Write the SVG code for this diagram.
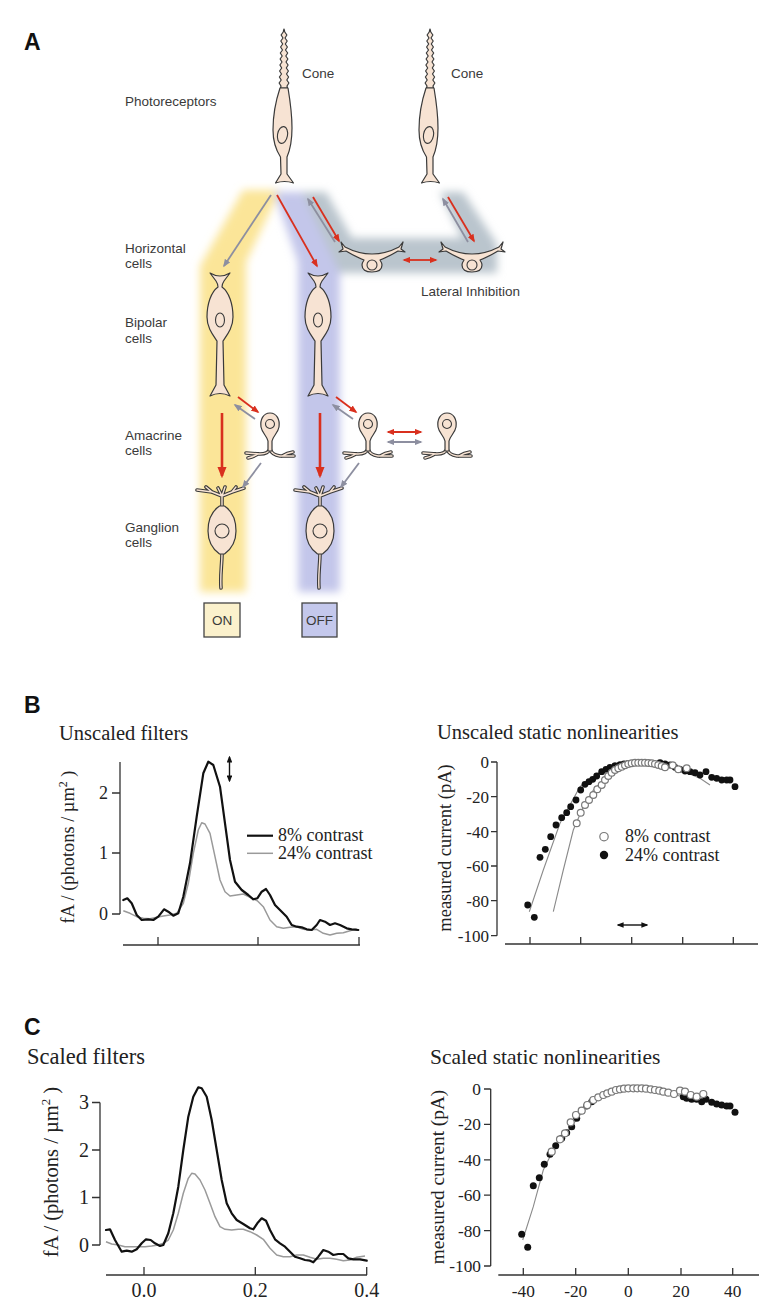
<svg xmlns="http://www.w3.org/2000/svg" xmlns:xlink="http://www.w3.org/1999/xlink" width="765" height="1300" viewBox="0 0 765 1300">
<style>
.cell{fill:#F7E3D3;stroke:#3a3a3a;stroke-width:1.2;stroke-linejoin:round}
.nuc{fill:none;stroke:#3a3a3a;stroke-width:1.1}
.dO{fill:none;stroke:#3a3a3a;stroke-width:3.6;stroke-linecap:round;stroke-linejoin:round}
.dI{fill:none;stroke:#F7E3D3;stroke-width:1.4;stroke-linecap:round;stroke-linejoin:round}
.lbl{font-family:"Liberation Sans",Arial,sans-serif;font-size:13.5px;fill:#3a3a3a}
.big{font-family:"Liberation Sans",Arial,sans-serif;font-size:23px;font-weight:bold;fill:#111}
.ser{font-family:"Liberation Serif","Times New Roman",serif;fill:#222}
.ax{fill:none;stroke:#333;stroke-width:1.3}
.blk{fill:none;stroke:#111;stroke-width:2.2;stroke-linejoin:round;stroke-linecap:round}
.gry{fill:none;stroke:#9a9a9a;stroke-width:1.5;stroke-linejoin:round}
.fit{fill:none;stroke:#8a8a8a;stroke-width:1.1}
.dot{fill:#111}
.odot{fill:#fff;stroke:#7a7a7a;stroke-width:1.2}
.ar{fill:none;stroke:#D9301E;stroke-width:1.8}
.arb{fill:none;stroke:#D9301E;stroke-width:2.6}
.ag{fill:none;stroke:#8D8FA0;stroke-width:1.8}
.ak{fill:none;stroke:#111;stroke-width:1.4}
</style>
<defs>
<filter id="blur" x="-30%" y="-10%" width="160%" height="120%"><feGaussianBlur stdDeviation="4"/></filter>
<marker id="mr" viewBox="0 0 10 8" refX="8" refY="4" markerWidth="4.5" markerHeight="3.6" orient="auto-start-reverse"><path d="M0,0 L10,4 L0,8 Z" fill="#D9301E"/></marker>
<marker id="mg" viewBox="0 0 10 8" refX="8" refY="4" markerWidth="4.5" markerHeight="3.6" orient="auto-start-reverse"><path d="M0,0 L10,4 L0,8 Z" fill="#8D8FA0"/></marker>
<marker id="mk" viewBox="0 0 10 8" refX="8" refY="4" markerWidth="5" markerHeight="4" orient="auto-start-reverse"><path d="M0,0 L10,4 L0,8 Z" fill="#111"/></marker>
<g id="coneShape">
<path class="cell" d="M 0 29 L 0.8 32 L 2.9 35 L 1.0 38 L 3.2 41 L 1.3 44 L 3.4 47 L 1.5 50 L 3.7 53 L 1.8 56 L 3.9 59 L 2.0 62 L 4.1 65 L 2.3 68 L 4.4 71 L 2.5 74 L 4.6 77 L 2.8 80 L 4.9 83 L 3 86 L 3.5 88 L -3.5 88 L -3 86 L -4.9 83 L -2.8 80 L -4.6 77 L -2.5 74 L -4.4 71 L -2.3 68 L -4.1 65 L -2.0 62 L -3.9 59 L -1.8 56 L -3.7 53 L -1.5 50 L -3.4 47 L -1.3 44 L -3.2 41 L -1.0 38 L -2.9 35 L -0.8 32 Z"/>
<path class="cell" d="M -4 88 C -8 100 -11 115 -11 130 C -11 143 -8 150 -3.5 157 L -3 174 L -8.5 183 Q 0.5 180 9.5 183 L 3 174 L 3 157 C 6 150 8 142 8 128 C 8 112 6 100 4 88 Z"/>
<ellipse class="nuc" cx="-1.5" cy="135" rx="5" ry="8.5" transform="rotate(10 -1.5 135)"/>
</g>
<g id="hShape">
<path class="cell" d="M -31 -11 L -27 -6 Q 0 8 27 -6 L 31 -11 L 29 -4 L 33 -1 L 26 -2 Q 14 5 8 7 Q 10 10 10 12 Q 10 19 0 19 Q -10 19 -10 12 Q -10 10 -8 7 Q -14 5 -26 -2 L -33 -1 L -29 -4 Z"/>
<circle class="nuc" cx="0" cy="12" r="5"/>
</g>
<g id="bShape">
<path class="cell" d="M -10 -45 Q 0 -39 10 -45 L 4 -37 Q 2 -34 2 -31 C 9 -26 13 -14 13 -1 C 13 10 7 17 3 23 L 4 67 L 10 78 Q 0 73 -10 78 L -4 67 L -3 23 C -7 17 -13 10 -13 -1 C -13 -14 -9 -26 -2 -31 Q -2 -34 -4 -37 Z"/>
<ellipse class="nuc" cx="0" cy="2" rx="4.5" ry="7"/>
</g>
<g id="aShape">
<path class="dO" d="M 0 22 Q -2 27 -10 27 L -24 26 M -12 27 Q -17 30 -22 31 M 0 22 Q 2 28 10 29 L 24 29 M 12 29 Q 17 26 23 25"/>
<path class="dI" d="M 0 22 Q -2 27 -10 27 L -24 26 M -12 27 Q -17 30 -22 31 M 0 22 Q 2 28 10 29 L 24 29 M 12 29 Q 17 26 23 25"/>
<path class="cell" d="M 0 -14 C 7 -14 10 -7 9 0 C 8 6 3 9 2 14 L 2 24 L -2 24 L -2 14 C -3 9 -8 6 -9 0 C -10 -7 -7 -14 0 -14 Z"/>
<circle class="nuc" cx="0" cy="-3" r="4.5"/>
</g>
<g id="gShape">
<path class="dO" d="M 0 -22 L 0 -34 M 0 -34 L -10 -38 L -25 -40 M -10 -38 L -16 -43 M 0 -34 L -4 -42 M 0 -34 L 3 -43 M 0 -34 L 10 -38 L 22 -42 M 10 -38 L 14 -43 M 0 23 C 0 35 -2 45 -1 58"/>
<path class="dI" d="M 0 -22 L 0 -34 M 0 -34 L -10 -38 L -25 -40 M -10 -38 L -16 -43 M 0 -34 L -4 -42 M 0 -34 L 3 -43 M 0 -34 L 10 -38 L 22 -42 M 10 -38 L 14 -43 M 0 23 C 0 35 -2 45 -1 58"/>
<path class="cell" d="M -2.5 -24 C -10 -19 -14 -10 -14 1 C -14 13 -8 20 -2.5 24 L 2.5 24 C 8 20 14 13 14 1 C 14 -10 10 -19 2.5 -24 Z"/>
<circle class="nuc" cx="0" cy="1" r="7"/>
</g>
</defs>
<rect width="765" height="1300" fill="#fff"/>

<g id="bands" filter="url(#blur)">
<path fill="#FBE598" d="M 243 190 L 280 190 L 246 262 L 246 592 L 200 592 L 200 266 Z"/>
<path fill="#C3C6EA" d="M 274 192 L 302 192 L 340 262 L 340 592 L 298 592 L 298 262 Z"/>
<path fill="#BAC5CD" d="M 302 192 L 326 192 L 352 238 L 462 238 L 440 192 L 463 192 L 497 244 L 497 273 L 340 273 Z"/>
</g>

<text class="big" x="24" y="50">A</text>
<text class="lbl" x="125" y="106">Photoreceptors</text>
<text class="lbl" x="302" y="78">Cone</text>
<text class="lbl" x="451" y="78">Cone</text>
<text class="lbl" x="125" y="253">Horizontal</text>
<text class="lbl" x="125" y="268">cells</text>
<text class="lbl" x="125" y="327">Bipolar</text>
<text class="lbl" x="125" y="343">cells</text>
<text class="lbl" x="125" y="440">Amacrine</text>
<text class="lbl" x="125" y="455">cells</text>
<text class="lbl" x="125" y="532">Ganglion</text>
<text class="lbl" x="125" y="547">cells</text>
<text class="lbl" x="421" y="296">Lateral Inhibition</text>

<g id="cone1" transform="translate(284,0)"><use xlink:href="#coneShape"/></g>
<g id="cone2" transform="translate(430,0)"><use xlink:href="#coneShape"/></g>
<g id="hcell1" transform="translate(372,253)"><use xlink:href="#hShape"/></g>
<g id="hcell2" transform="translate(472,253)"><use xlink:href="#hShape"/></g>
<g id="bipolar-on" transform="translate(220,318)"><use xlink:href="#bShape"/></g>
<g id="bipolar-off" transform="translate(318,318)"><use xlink:href="#bShape"/></g>
<g id="amacrine1" transform="translate(270,427)"><use xlink:href="#aShape"/></g>
<g id="amacrine2" transform="translate(368,427)"><use xlink:href="#aShape"/></g>
<g id="amacrine3" transform="translate(447,427)"><use xlink:href="#aShape"/></g>
<g id="ganglion-on" transform="translate(222,530)"><use xlink:href="#gShape"/></g>
<g id="ganglion-off" transform="translate(320,530)"><use xlink:href="#gShape"/></g>

<g id="box-on"><rect x="204" y="603" width="36" height="34" fill="#FBF1CC" stroke="#444" stroke-width="1.3"/><text class="lbl" x="222" y="625" text-anchor="middle">ON</text></g>
<g id="box-off"><rect x="302" y="603" width="35" height="34" fill="#C4C8EC" stroke="#444" stroke-width="1.3"/><text class="lbl" x="319.5" y="625" text-anchor="middle">OFF</text></g>

<g id="connectors">
<line class="ag" x1="271" y1="195" x2="224" y2="266" marker-end="url(#mg)"/>
<line class="ar" x1="277" y1="195" x2="317" y2="266" marker-end="url(#mr)"/>
<line class="ar" x1="313" y1="197" x2="339" y2="241" marker-end="url(#mr)"/>
<line class="ag" x1="335" y1="242" x2="308" y2="199" marker-end="url(#mg)"/>
<line class="ar" x1="448" y1="197" x2="474" y2="241" marker-end="url(#mr)"/>
<line class="ag" x1="468" y1="242" x2="443" y2="199" marker-end="url(#mg)"/>
<line class="ar" x1="404" y1="260" x2="436" y2="260" marker-start="url(#mr)" marker-end="url(#mr)"/>
<line class="ar" x1="238" y1="397" x2="258" y2="412" marker-end="url(#mr)"/>
<line class="ag" x1="255" y1="419" x2="235" y2="405" marker-end="url(#mg)"/>
<line class="ar" x1="336" y1="397" x2="356" y2="412" marker-end="url(#mr)"/>
<line class="ag" x1="353" y1="419" x2="333" y2="405" marker-end="url(#mg)"/>
<line class="ar" x1="388" y1="432" x2="421" y2="432" marker-start="url(#mr)" marker-end="url(#mr)"/>
<line class="ag" x1="388" y1="442" x2="421" y2="442" marker-start="url(#mg)" marker-end="url(#mg)"/>
<line class="arb" x1="222" y1="413" x2="222" y2="476" marker-end="url(#mr)"/>
<line class="arb" x1="320" y1="413" x2="320" y2="476" marker-end="url(#mr)"/>
<line class="ag" x1="261" y1="463" x2="243" y2="487" marker-end="url(#mg)"/>
<line class="ag" x1="359" y1="463" x2="341" y2="487" marker-end="url(#mg)"/>
</g>

<!-- Panel B -->
<text class="big" x="24" y="713">B</text>
<g id="plotB1">
<text class="ser" x="59" y="740" font-size="20.5">Unscaled filters</text>
<text class="ser" font-size="18.4" transform="translate(74,847) rotate(-90)" text-anchor="middle">fA / (photons / µm<tspan font-size="12" dy="-7">2</tspan><tspan dy="7"> )</tspan></text>
<path class="ax" d="M120 762 L120 914 M112 914 L120 914 M112 853 L120 853 M112 793 L120 793"/>
<text class="ser" font-size="18" x="108" y="920" text-anchor="end">0</text>
<text class="ser" font-size="18" x="108" y="859" text-anchor="end">1</text>
<text class="ser" font-size="18" x="108" y="799" text-anchor="end">2</text>
<path class="ax" d="M123 945 L360 945 M158 945 L158 937 M258 945 L258 937 M359 945 L359 937"/>
<polyline class="gry" points="123.3,910.7 130,913.3 136.7,916.7 143.3,918.3 150,918.7 156.7,917.3 163.3,916 170,915 176.7,913.3 183.3,903.3 188.3,883.3 193.3,853.3 198.3,830 201.7,822.7 205,824 210,833.3 215,856.7 220,880 225,891.7 230,896 236.7,895 243.3,894 250,897.3 257.3,900.7 263.3,906.7 270,920 276.7,926.7 283.3,928.3 290,927.3 296.7,926.7 303.3,929.3 310,930 316.7,929.3 323.3,933.3 330,935 336.7,933.3 343.3,932.7 350,930.7 356.7,928.7"/>
<polyline class="blk" points="123.3,900 127.3,898.3 131.7,903.3 136.7,915 141.7,920 148.3,919.3 153.3,920 158.3,916.7 164,909.3 168.3,911.7 173.3,915.7 178.3,913.3 183.3,896.7 190,863.3 196.7,816.7 203.3,773.3 208.3,761.7 213.3,765 220,786.7 225,823.3 230,860 235,881.7 241.7,890 248.3,895 253.3,899.3 257.3,898.3 261.7,891.7 266,889 270,895 275,905 280,910 286.7,916.7 291.7,925 296.7,926.7 301.7,927.3 306.7,929.3 311.7,930 316.7,925 320,920 325,921.7 330,925 335,923.3 340,925 346.7,928.3 351.7,929.3 358.3,930"/>
<line class="ak" x1="229.5" y1="757" x2="229.5" y2="781" marker-start="url(#mk)" marker-end="url(#mk)"/>
<line x1="247" y1="835.7" x2="273" y2="835.7" stroke="#111" stroke-width="2.2"/>
<line x1="247" y1="853.3" x2="273" y2="853.3" stroke="#9a9a9a" stroke-width="1.5"/>
<text class="ser" font-size="18" x="278" y="841">8% contrast</text>
<text class="ser" font-size="18" x="278" y="859">24% contrast</text>
</g>

<g id="plotB2">
<text class="ser" x="437" y="739" font-size="20.5">Unscaled static nonlinearities</text>
<text class="ser" font-size="18.5" transform="translate(451,848) rotate(-90)" text-anchor="middle">measured current (pA)</text>
<path class="ax" d="M497 762 L497 935.7 M491 762 L497 762 M491 796.7 L497 796.7 M491 831.7 L497 831.7 M491 866 L497 866 M491 900.7 L497 900.7 M491 935.7 L497 935.7"/>
<text class="ser" font-size="17" x="489" y="768" text-anchor="end">0</text>
<text class="ser" font-size="17" x="489" y="802.7" text-anchor="end">-20</text>
<text class="ser" font-size="17" x="489" y="837.7" text-anchor="end">-40</text>
<text class="ser" font-size="17" x="489" y="872" text-anchor="end">-60</text>
<text class="ser" font-size="17" x="489" y="906.7" text-anchor="end">-80</text>
<text class="ser" font-size="17" x="489" y="941.7" text-anchor="end">-100</text>
<path class="ax" d="M505 944 L758 944 M530 944 L530 937 M580.7 944 L580.7 937 M631.7 944 L631.7 937 M682.7 944 L682.7 937 M733.3 944 L733.3 937"/>
<polyline class="fit" points="529.3,911.7 543.3,870 560,823.3 580,786.7 600,771.7 620,764 640,762.7 660,764 680,770 700,778.3 710,785"/>
<polyline class="fit" points="553.3,911.7 563.3,870 573.3,830 583.3,806.7 593.3,790 606.7,776.7 620,767.3 633.3,763.3"/>
<g class="dot">
<circle cx="527.7" cy="905" r="3.4"/><circle cx="534.3" cy="917.3" r="3.4"/><circle cx="540" cy="857.3" r="3.4"/><circle cx="545.3" cy="849.3" r="3.4"/><circle cx="550.7" cy="836.7" r="3.4"/><circle cx="556" cy="825" r="3.4"/><circle cx="561.7" cy="817.7" r="3.4"/><circle cx="566.7" cy="812.7" r="3.4"/><circle cx="570.7" cy="806.7" r="3.4"/><circle cx="576" cy="800" r="3.4"/><circle cx="580.7" cy="790" r="3.4"/><circle cx="585" cy="784.3" r="3.4"/><circle cx="589" cy="781.7" r="3.4"/><circle cx="592.7" cy="779.3" r="3.4"/><circle cx="596.7" cy="776" r="3.4"/><circle cx="601.7" cy="771.7" r="3.4"/><circle cx="606" cy="769.3" r="3.4"/><circle cx="610" cy="767.3" r="3.4"/><circle cx="615" cy="765.7" r="3.4"/><circle cx="620" cy="764.7" r="3.4"/><circle cx="624" cy="764" r="3.4"/><circle cx="628.3" cy="763.3" r="3.4"/><circle cx="660" cy="762.7" r="3.4"/><circle cx="665" cy="764" r="3.4"/><circle cx="670" cy="765" r="3.4"/><circle cx="675" cy="767.3" r="3.4"/><circle cx="680" cy="769.3" r="3.4"/><circle cx="685" cy="771" r="3.4"/><circle cx="690" cy="771.7" r="3.4"/><circle cx="695" cy="772.7" r="3.4"/><circle cx="700" cy="775" r="3.4"/><circle cx="706" cy="771.7" r="3.4"/><circle cx="711.7" cy="777.3" r="3.4"/><circle cx="716.7" cy="778.3" r="3.4"/><circle cx="721.7" cy="780" r="3.4"/><circle cx="726.7" cy="780" r="3.4"/><circle cx="730" cy="780" r="3.4"/><circle cx="735" cy="786.7" r="3.4"/>
</g>
<g class="odot">
<circle cx="576.7" cy="823.3" r="3.4"/><circle cx="580.7" cy="812.7" r="3.4"/><circle cx="585" cy="805" r="3.4"/><circle cx="589" cy="800" r="3.4"/><circle cx="593.3" cy="795" r="3.4"/><circle cx="597.3" cy="789.3" r="3.4"/><circle cx="601.7" cy="785" r="3.4"/><circle cx="605" cy="780" r="3.4"/><circle cx="608.3" cy="776" r="3.4"/><circle cx="611.7" cy="772.7" r="3.4"/><circle cx="615" cy="770" r="3.4"/><circle cx="618.3" cy="768.3" r="3.4"/><circle cx="621.7" cy="766.7" r="3.4"/><circle cx="625" cy="765.3" r="3.4"/><circle cx="628.3" cy="764" r="3.4"/><circle cx="631.7" cy="763.3" r="3.4"/><circle cx="635" cy="762.7" r="3.4"/><circle cx="638.3" cy="762.7" r="3.4"/><circle cx="641.7" cy="762.7" r="3.4"/><circle cx="645" cy="762.7" r="3.4"/><circle cx="648.3" cy="763" r="3.4"/><circle cx="651.7" cy="763.3" r="3.4"/><circle cx="655" cy="764" r="3.4"/><circle cx="658.3" cy="765" r="3.4"/><circle cx="661.7" cy="766" r="3.4"/><circle cx="665" cy="767.3" r="3.4"/><circle cx="672.7" cy="765.3" r="3.4"/><circle cx="678.3" cy="769.3" r="3.4"/><circle cx="686.7" cy="768.3" r="3.4"/>
</g>
<line class="ak" x1="618" y1="925" x2="647" y2="925" marker-start="url(#mk)" marker-end="url(#mk)"/>
<circle class="odot" cx="604" cy="836.7" r="4.2"/>
<circle class="dot" cx="604" cy="855" r="4.2"/>
<text class="ser" font-size="18" x="625" y="842">8% contrast</text>
<text class="ser" font-size="18" x="625" y="861">24% contrast</text>
</g>

<!-- Panel C -->
<text class="big" x="24" y="1035">C</text>
<g id="plotC1">
<text class="ser" x="27" y="1064" font-size="22.5">Scaled filters</text>
<text class="ser" font-size="20.5" transform="translate(58,1172) rotate(-90)" text-anchor="middle">fA / (photons / µm<tspan font-size="13" dy="-8">2</tspan><tspan dy="8"> )</tspan></text>
<path class="ax" d="M100 1102.5 L100 1245 M92 1245 L100 1245 M92 1197.5 L100 1197.5 M92 1150 L100 1150 M92 1102.5 L100 1102.5"/>
<text class="ser" font-size="20" x="89" y="1251.5" text-anchor="end">0</text>
<text class="ser" font-size="20" x="89" y="1204" text-anchor="end">1</text>
<text class="ser" font-size="20" x="89" y="1156.5" text-anchor="end">2</text>
<text class="ser" font-size="20" x="89" y="1109" text-anchor="end">3</text>
<path class="ax" d="M106 1275 L367 1275 M144 1275 L144 1267 M255.3 1275 L255.3 1267 M366.7 1275 L366.7 1267"/>
<text class="ser" font-size="20" x="144" y="1297" text-anchor="middle">0.0</text>
<text class="ser" font-size="20" x="255.3" y="1297" text-anchor="middle">0.2</text>
<text class="ser" font-size="20" x="366.7" y="1297" text-anchor="middle">0.4</text>
<polyline class="gry" points="106,1241.7 111.7,1244 118.3,1245 125,1246.7 131.7,1246.7 138.3,1246.7 145,1246.7 151.7,1246 158.3,1245 163.3,1243.3 168.3,1240 173.3,1230 178.3,1213.3 183.3,1193.3 188.3,1178.3 191.7,1173.3 195,1174 200,1180 205,1190 210,1203.3 215,1216.7 220,1226.7 225,1229.3 231.7,1230 238.3,1229.3 243.3,1229.3 250,1231.7 256.7,1235 263.3,1239.3 270,1248.3 276.7,1255 283.3,1256.7 290,1256.7 296.7,1255 303.3,1255 310,1257.3 316.7,1259.3 323.3,1258.3 330,1258.3 336.7,1259.3 343.3,1260.7 350,1260 356.7,1257.3 365,1256"/>
<polyline class="blk" points="106,1230 110,1229.3 115,1240 121.7,1251.7 126.7,1250.7 131.7,1251.7 136.7,1249.3 141.7,1243.3 146,1239.3 150.7,1240 155,1243.3 160,1246 163.3,1245 168.3,1233.3 173.3,1213.3 178.3,1186.7 183.3,1150 188.3,1116.7 193.3,1096.7 198.3,1087.3 201.7,1088.3 206.7,1096.7 211.7,1120 216.7,1150 221.7,1180 226.7,1203.3 231.7,1213.3 236.7,1220 243.3,1224 250,1228.3 253.3,1229.3 257.3,1223.3 261.7,1218.3 266,1220.7 270,1230 275,1239.3 280,1243.3 285,1246.7 290,1251.7 295,1256.7 300,1258.3 305,1260 310,1260.7 313.3,1262.3 318.3,1256.7 323.3,1250 328.3,1251.7 333.3,1255 338.3,1254 343.3,1254 348.3,1258.3 353.3,1259.3 360,1259.3 366.7,1260.7"/>
</g>

<g id="plotC2">
<text class="ser" x="430" y="1064" font-size="21.5">Scaled static nonlinearities</text>
<text class="ser" font-size="19.3" transform="translate(444,1177) rotate(-90)" text-anchor="middle">measured current (pA)</text>
<path class="ax" d="M490.7 1089 L490.7 1266 M484 1089 L490.7 1089 M484 1124.4 L490.7 1124.4 M484 1159.8 L490.7 1159.8 M484 1195.2 L490.7 1195.2 M484 1230.6 L490.7 1230.6 M484 1266 L490.7 1266"/>
<text class="ser" font-size="17.3" x="481" y="1095" text-anchor="end">0</text>
<text class="ser" font-size="17.3" x="481" y="1130.4" text-anchor="end">-20</text>
<text class="ser" font-size="17.3" x="481" y="1165.8" text-anchor="end">-40</text>
<text class="ser" font-size="17.3" x="481" y="1201.2" text-anchor="end">-60</text>
<text class="ser" font-size="17.3" x="481" y="1236.6" text-anchor="end">-80</text>
<text class="ser" font-size="17.3" x="481" y="1272" text-anchor="end">-100</text>
<path class="ax" d="M498.3 1275 L759 1275 M523.3 1275 L523.3 1268 M575.7 1275 L575.7 1268 M628.3 1275 L628.3 1268 M681 1275 L681 1268 M732.7 1275 L732.7 1268"/>
<text class="ser" font-size="17.3" x="523.3" y="1297" text-anchor="middle">-40</text>
<text class="ser" font-size="17.3" x="575.7" y="1297" text-anchor="middle">-20</text>
<text class="ser" font-size="17.3" x="628.3" y="1297" text-anchor="middle">0</text>
<text class="ser" font-size="17.3" x="681" y="1297" text-anchor="middle">20</text>
<text class="ser" font-size="17.3" x="732.7" y="1297" text-anchor="middle">40</text>
<polyline class="fit" points="522.7,1240 533.3,1206.7 543.3,1170 556.7,1143.3 570,1128.3 586.7,1106 606.7,1093.3 628.3,1088.3 653.3,1090 680,1096"/>
<g class="dot">
<circle cx="521.7" cy="1234.3" r="3.5"/><circle cx="527.7" cy="1247.3" r="3.5"/><circle cx="533.3" cy="1185.7" r="3.5"/><circle cx="539.3" cy="1177.7" r="3.5"/><circle cx="544.3" cy="1164.3" r="3.5"/><circle cx="550" cy="1154.3" r="3.5"/><circle cx="555.7" cy="1145.7" r="3.5"/><circle cx="561.7" cy="1138.3" r="3.5"/><circle cx="566.7" cy="1132.7" r="3.5"/><circle cx="571.7" cy="1126.7" r="3.5"/><circle cx="576.7" cy="1118.3" r="3.5"/><circle cx="581.7" cy="1110.7" r="3.5"/><circle cx="586.7" cy="1106" r="3.5"/><circle cx="591.7" cy="1101.7" r="3.5"/><circle cx="683.3" cy="1096.7" r="3.5"/><circle cx="686.7" cy="1098.3" r="3.5"/><circle cx="691.7" cy="1099.3" r="3.5"/><circle cx="696.7" cy="1099.3" r="3.5"/><circle cx="701.7" cy="1101.7" r="3.5"/><circle cx="706" cy="1099.3" r="3.5"/><circle cx="711.7" cy="1102.3" r="3.5"/><circle cx="716.7" cy="1104" r="3.5"/><circle cx="721.7" cy="1105" r="3.5"/><circle cx="726.7" cy="1106" r="3.5"/><circle cx="730" cy="1106" r="3.5"/><circle cx="735" cy="1112.3" r="3.5"/>
</g>
<g class="odot">
<circle cx="551.7" cy="1151.7" r="3.5"/><circle cx="560" cy="1139.3" r="3.5"/><circle cx="565" cy="1133.3" r="3.5"/><circle cx="570.7" cy="1122.3" r="3.5"/><circle cx="576" cy="1115" r="3.5"/><circle cx="581.7" cy="1110.7" r="3.5"/><circle cx="587.3" cy="1105" r="3.5"/><circle cx="593.3" cy="1100" r="3.5"/><circle cx="598.3" cy="1097.3" r="3.5"/><circle cx="603.3" cy="1095" r="3.5"/><circle cx="607.3" cy="1093.3" r="3.5"/><circle cx="611.7" cy="1091.7" r="3.5"/><circle cx="616" cy="1090" r="3.5"/><circle cx="620" cy="1089.3" r="3.5"/><circle cx="624" cy="1088.7" r="3.5"/><circle cx="628.3" cy="1088.3" r="3.5"/><circle cx="633.3" cy="1088.3" r="3.5"/><circle cx="637.3" cy="1088.3" r="3.5"/><circle cx="641.7" cy="1088.3" r="3.5"/><circle cx="646" cy="1088.7" r="3.5"/><circle cx="650.7" cy="1089.3" r="3.5"/><circle cx="655" cy="1090" r="3.5"/><circle cx="659.3" cy="1090.7" r="3.5"/><circle cx="663.3" cy="1091.7" r="3.5"/><circle cx="668.3" cy="1092.7" r="3.5"/><circle cx="674" cy="1094" r="3.5"/><circle cx="680" cy="1090.7" r="3.5"/><circle cx="685" cy="1091.7" r="3.5"/><circle cx="690.7" cy="1095" r="3.5"/><circle cx="696.7" cy="1096.7" r="3.5"/><circle cx="703.3" cy="1094" r="3.5"/>
</g>
</g>
</svg>
